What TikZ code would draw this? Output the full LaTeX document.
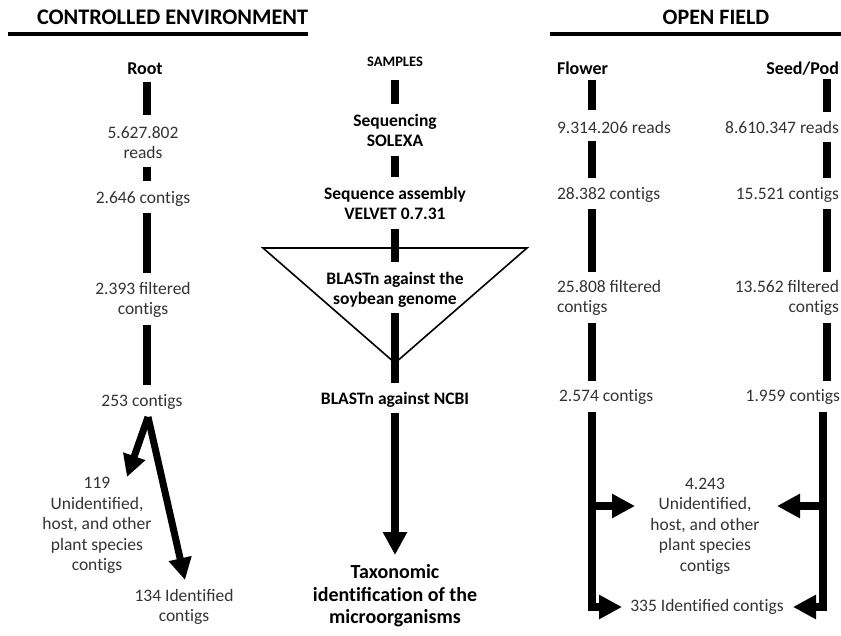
\documentclass[tikz,border=0pt]{standalone}
\usepackage{fontspec}
\setmainfont{Carlito}
\usetikzlibrary{arrows.meta}
\definecolor{txt}{HTML}{333333}
\newcommand{\Ti}{t\kern0pt i}
\begin{document}
\begin{tikzpicture}[x=1pt,y=-1pt,
  every node/.style={inner sep=0pt, outer sep=0pt},
  title/.style={font=\fontsize{22}{26}\selectfont\bfseries},
  headl/.style={font=\fontsize{18}{21}\selectfont\bfseries},
  body/.style={font=\fontsize{17.5}{20.5}\selectfont, text=txt, align=center},
  stepb/.style={font=\fontsize{17.5}{20}\selectfont\bfseries, align=center},
  bar/.style={line width=7.5pt},
  arr/.style={line width=7.5pt, -{Triangle[length=23pt,width=23pt]}},
  arrl/.style={line width=7pt, -{Triangle[length=22pt,width=22pt]}},
  rulel/.style={line width=3.5pt},
  tri/.style={line width=1.6pt, line join=miter},
]
\useasboundingbox (0,0) rectangle (841,635);

% headers
\node[title, anchor=west] (t1) at (37,17) {\resizebox{271pt}{!}{CONTROLLED ENVIRONMENT}};
\node[title] (t2) at (716,17) {OPEN FIELD};
\draw[rulel] (8,34) -- (308,34);
\draw[rulel] (550,34) -- (841,34);

% ---------- left column ----------
\node[headl, anchor=base] (root) at (145,74) {Root};
\node[body] (l1) at (143,142.5) {5.627.802\\reads};
\node[body] (l2) at (143,199) {2.646 con\Ti gs};
\node[body] (l3) at (143,300) {2.393 filtered\\con\Ti gs};
\node[body] (l4) at (142,402) {253 con\Ti gs};
\node[body] (l5) at (97,525.5) {119\\Uniden\Ti fied,\\host, and other\\plant species\\con\Ti gs};
\node[body] (l6) at (184,607) {134 Iden\Ti fied\\con\Ti gs};

\draw[bar, shorten <=14pt, shorten >=27.5pt] ([xshift=2pt]root.center) -- ([xshift=4pt]l1.center);
\draw[bar, shorten <=24.5pt, shorten >=18pt] ([xshift=4pt]l1.center) -- ([xshift=4pt]l2.center);
\draw[bar, shorten <=14pt, shorten >=27pt] ([xshift=4pt]l2.center) -- ([xshift=4pt]l3.center);
\draw[bar, shorten <=25pt, shorten >=17pt] ([xshift=4pt]l3.center) -- ([xshift=5pt]l4.center);
\coordinate (lsplit) at ([xshift=6pt,yshift=-15pt]l4.center);
\draw[arrl] (lsplit) -- ([xshift=30pt,yshift=48.5pt]l5.center);
\draw[arrl] (lsplit) -- ([xshift=1pt,yshift=27pt]l6.center);

% ---------- centre column ----------
\draw[tri] (263,248) -- (527,248) -- (395,363) -- cycle;
\node[font=\fontsize{14.5}{17}\selectfont\bfseries] (c0) at (395,62) {SAMPLES};
\node[stepb] (c1) at (395,130) {Sequencing\\SOLEXA};
\node[stepb] (c2) at (395,203) {Sequence assembly\\VELVET 0.7.31};
\node[stepb] (c3) at (395,290) {BLASTn against the\\soybean genome};
\node[stepb] (c4) at (395,400) {BLASTn against NCBI};
\node[font=\fontsize{20}{22.5}\selectfont\bfseries, align=center] (c5) at (395,596) {Taxonomic\\iden\Ti fica\Ti on of the\\microorganisms};

\draw[bar, shorten <=18pt, shorten >=26pt] (c0.center) -- (c1.center);
\draw[bar, shorten <=26pt, shorten >=26pt] (c1.center) -- (c2.center);
\draw[bar, shorten <=26pt, shorten >=28pt] (c2.center) -- (c3.center);
\draw[bar, shorten <=23pt, shorten >=17pt] (c3.center) -- (c4.center);
\draw[arr, shorten <=13pt, shorten >=41pt] (c4.center) -- (c5.center);

% ---------- open field: flower ----------
\node[headl, anchor=base west] (f0) at (557,74) {Flower};
\node[body, anchor=west] (f1) at (557,127) {9.314.206 reads};
\node[body, anchor=west] (f2) at (557,195) {28.382 con\Ti gs};
\node[body, anchor=west, align=left] (f3) at (557,298) {25.808 filtered\\con\Ti gs};
\node[body, anchor=west] (f4) at (559,397) {2.574 con\Ti gs};

\draw[bar, shorten <=12pt, shorten >=17pt] ([xshift=35pt]f0.west) -- ([xshift=35pt]f1.west);
\draw[bar, shorten <=14pt, shorten >=17pt] ([xshift=35pt]f1.west) -- ([xshift=35pt]f2.west);
\draw[bar, shorten <=14pt, shorten >=26pt] ([xshift=35pt]f2.west) -- ([xshift=35pt]f3.west);
\draw[bar, shorten <=25pt, shorten >=16pt] ([xshift=35pt]f3.west) -- ([xshift=33pt]f4.west);

% ---------- open field: seed/pod ----------
\node[headl, anchor=base east] (s0) at (839,74) {Seed/Pod};
\node[body, anchor=east] (s1) at (839,127) {8.610.347 reads};
\node[body, anchor=east] (s2) at (839,195) {15.521 con\Ti gs};
\node[body, anchor=east, align=right] (s3) at (839,298) {13.562 filtered\\con\Ti gs};
\node[body, anchor=east] (s4) at (840,397) {1.959 con\Ti gs};

\draw[bar, shorten <=11pt, shorten >=15pt] ([xshift=-12pt]s0.east) -- ([xshift=-12pt]s1.east);
\draw[bar, shorten <=15pt, shorten >=17pt] ([xshift=-12pt]s1.east) -- ([xshift=-12pt]s2.east);
\draw[bar, shorten <=14pt, shorten >=26pt] ([xshift=-12pt]s2.east) -- ([xshift=-12pt]s3.east);
\draw[bar, shorten <=25pt, shorten >=16pt] ([xshift=-12pt]s3.east) -- ([xshift=-13pt]s4.east);

% ---------- open field: results ----------
\node[body] (o1) at (705,526) {4.243\\Uniden\Ti fied,\\host, and other\\plant species\\con\Ti gs};
\node[body] (o2) at (707,607) {335 Iden\Ti fied con\Ti gs};

\coordinate (fb) at ([xshift=33pt,yshift=-15pt]f4.west);
\coordinate (sb) at ([xshift=-17pt,yshift=-15pt]s4.east);
\coordinate (o1l) at ([xshift=-70pt,yshift=20pt]o1.center);
\coordinate (o1r) at ([xshift=72pt,yshift=20pt]o1.center);
\coordinate (o2l) at ([xshift=-85pt]o2.center);
\coordinate (o2r) at ([xshift=86pt]o2.center);

\draw[arr] (fb) |- (o2l);
\draw[arr] (sb) |- (o2r);
\draw[arr] (fb |- o1l) -- (o1l);
\draw[arr] (sb |- o1r) -- (o1r);
\end{tikzpicture}
\end{document}
